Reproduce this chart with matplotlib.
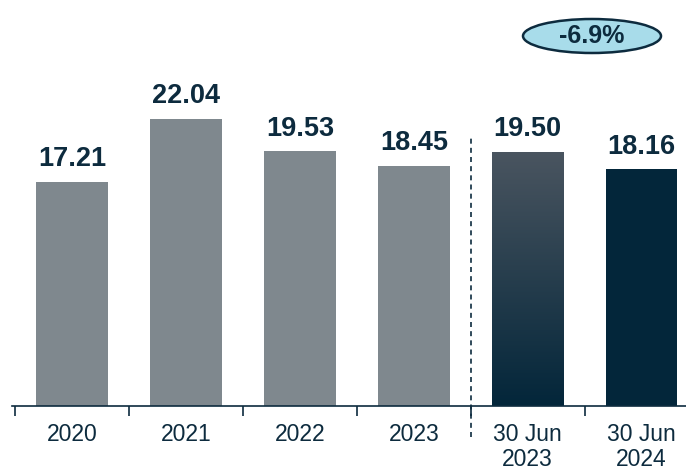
import matplotlib.pyplot as plt
import numpy as np
from matplotlib.patches import Ellipse
from matplotlib.colors import LinearSegmentedColormap

plt.rcParams['font.family'] = ['Liberation Sans', 'DejaVu Sans']

periods = ['2020', '2021', '2022', '2023', '30 Jun\n2023', '30 Jun\n2024']
values = [17.21, 22.04, 19.53, 18.45, 19.50, 18.16]
change_label = '-6.9%'

grey = '#7f888e'
navy = '#03263a'
text_col = '#0d2b3e'

fig = plt.figure(figsize=(6.86, 4.71), dpi=100)
ax = fig.add_axes([12 / 686, 65 / 471, 674 / 686, 391 / 471])

x = np.arange(len(values))
width = 0.63
colors = [grey] * 4 + ['none', navy]
bars = ax.bar(x, values, width=width, color=colors, zorder=2)

# vertical gradient for the first half-year bar (lighter at the top)
grad_bar = bars[4]
cmap = LinearSegmentedColormap.from_list('halfyear', ['#4a5560', navy])
gx0 = grad_bar.get_x()
gx1 = gx0 + grad_bar.get_width()
img = ax.imshow(np.linspace(0, 1, 256).reshape(-1, 1), cmap=cmap, aspect='auto',
                extent=[gx0, gx1, 0, values[4]], origin='upper', zorder=2)
img.set_clip_path(grad_bar)

for xi, v in zip(x, values):
    ax.text(xi, v + 1.75, f'{v:.2f}', ha='center', va='center', fontsize=19.5,
            fontweight='bold', color=text_col)

ax.set_xlim(-0.53, 5.39)
ax.set_ylim(0, 30)

for side in ['top', 'right', 'left']:
    ax.spines[side].set_visible(False)
ax.spines['bottom'].set_color(text_col)
ax.spines['bottom'].set_linewidth(1.2)
ax.set_yticks([])
ax.set_xticks(np.arange(-0.5, 5, 1.0))
ax.set_xticklabels([])
ax.tick_params(axis='x', length=7, width=1.2, color=text_col)
for xi, lab in zip(x, periods):
    ax.text(xi, -1.3, lab, ha='center', va='top', fontsize=16.5, color=text_col,
            linespacing=1.1, clip_on=False)

# separator between full years and half years
ax.plot([3.5, 3.5], [-2.4, 20.6], color=text_col, lw=1.2, ls=(0, (3, 2.5)),
        clip_on=False, zorder=3)

ell = Ellipse((592 / 686, 1 - 36 / 471), 138 / 686, 34 / 471,
              transform=fig.transFigure, facecolor='#a8dcea', edgecolor=text_col,
              linewidth=1.8)
fig.add_artist(ell)
fig.text(592 / 686, 1 - 36 / 471, change_label, ha='center', va='center',
         fontsize=18, fontweight='bold', color=text_col)

fig.savefig('out.png', dpi=100)
